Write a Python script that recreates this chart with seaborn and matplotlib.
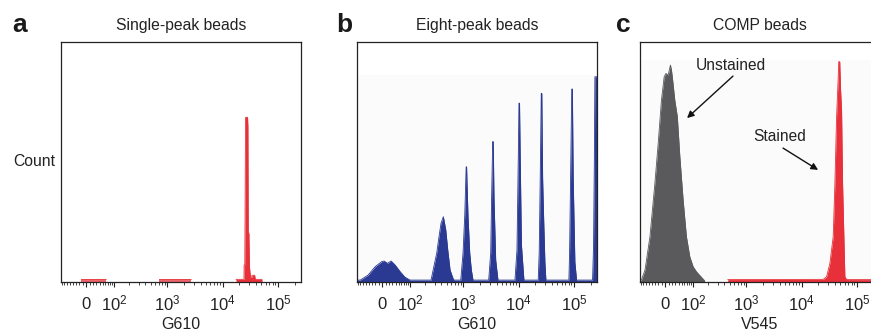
import numpy as np
import matplotlib
matplotlib.use('Agg')
import matplotlib.pyplot as plt
import matplotlib.transforms as mtransforms
import seaborn as sns

# Panel a: single-peak beads (G610), red histogram outline
single_x = [17460, 24370, 24500, 25200, 25500, 26000, 28300, 28700, 29100, 29900,
            30600, 31900, 33800, 34100, 38000, 39000, 51830]
single_count = [11, 11, 71, 71, 272, 686, 686, 647, 204, 204,
                64, 20, 20, 28, 28, 11, 11]
single_low_x = [-14, 63]
single_low_count = [11, 11]
single_mid_x = [700, 2730]
single_mid_count = [11, 11]

# Panel b: eight-peak beads (G610), blue histogram outline
eight_x = [-85, -71, -42, -20, -1, 5.7, 15, 26, 38.5, 56, 75, 98,
           256, 327, 360, 392, 433, 479, 521, 574, 659, 687,
           898, 987, 1061, 1106, 1125, 1145, 1170, 1216, 1306, 1397, 1497,
           2877, 3128, 3260, 3400, 3480, 3587, 3851, 4236,
           8593, 9343, 9861, 10150, 10400, 10713, 11262, 12497,
           22660, 23610, 24620, 25700, 26300, 27210, 28120, 29920, 31200,
           81300, 83680, 87250, 91500, 94000, 97240, 104350, 111960,
           217840, 226950, 234570, 240000, 262144]
eight_count = [8, 8, 29, 64, 85, 87.5, 78, 87.5, 71, 43, 20, 8,
               8, 121, 189, 245, 272, 217, 133, 50, 11, 8,
               8, 121, 279, 425, 480, 480, 400, 272, 120, 50, 8,
               8, 121, 371, 585, 585, 355, 92, 8,
               8, 133, 508, 745, 745, 508, 154, 8,
               8, 125, 433, 786, 786, 433, 300, 83, 8,
               8, 125, 433, 804, 804, 433, 83, 8,
               8, 150, 501, 855, 855]

# Panel c: COMP beads (V545)
unstained_x = [-85, -79, -64, -46, -30, -20, -10.5, -2.8, 2, 8.5, 15.1, 18.1, 21,
               28, 36, 44.3, 55.8, 68.5, 82.8, 98.5, 116, 146.5, 170]
unstained_count = [5, 8, 50, 189, 411, 578, 758, 855, 869, 862, 904, 883, 849,
                   758, 689, 522, 342, 189, 105, 64, 43, 20, 5]
stained_x = [459, 24620, 28340, 32520, 37300, 40050, 42980, 45930, 47000, 49000,
             50760, 52900, 55150, 58240, 60690, 65180, 262144]
stained_count = [10, 11, 22, 78, 189, 411, 689, 850, 918, 918,
                 800, 717, 411, 189, 22, 10, 10]

major_ticks = [0, 1e2, 1e3, 1e4, 1e5]
major_labels = ['0', r'$\mathregular{10^2}$', r'$\mathregular{10^3}$',
                r'$\mathregular{10^4}$', r'$\mathregular{10^5}$']
minor_ticks = ([-80, -70, -60, -50, -40, -30, -20, -10, 10, 20, 30, 40, 50, 60, 70, 80, 90]
               + [200, 300, 400, 500, 600, 700, 800, 900]
               + [2000, 3000, 4000, 5000, 6000, 7000, 8000, 9000]
               + [20000, 30000, 40000, 50000, 60000, 70000, 80000, 90000, 200000])

sns.set_theme(style='ticks')
plt.rcParams['font.family'] = ['Liberation Sans', 'DejaVu Sans']
plt.rcParams['mathtext.fontset'] = 'custom'
plt.rcParams['mathtext.rm'] = 'Liberation Sans'
plt.rcParams['mathtext.it'] = 'Liberation Sans:italic'
plt.rcParams['mathtext.bf'] = 'Liberation Sans:bold'

RED = '#e8303a'
BLUE = '#2a3a93'
GRAY = '#5a5a5c'
TXT = '#222222'

fig = plt.figure(figsize=(8.71, 3.32), dpi=100)
W, H = 871, 332


def make_axes(left_px):
    return fig.add_axes([left_px / W, 50 / H, 240 / W, 240 / H])


def hist_fill(ax, x, y, color, alpha=1.0):
    sns.lineplot(x=x, y=y, estimator=None, sort=False, ax=ax, color=color,
                 lw=0.6, alpha=alpha)
    ax.fill_between(x, y, 0, color=color, lw=0, alpha=alpha)


def style_axes(ax, xlabel):
    ax.set_xscale('asinh', linear_width=68)
    ax.set_xlim(-85, 262144)
    ax.set_ylim(0, 1000)
    ax.set_xticks(major_ticks, major_labels)
    ax.set_xticks(minor_ticks, minor=True)
    ax.set_yticks([])
    ax.set_ylabel('')
    ax.tick_params(axis='x', which='major', direction='out', length=3.6, width=0.8,
                   pad=5, labelsize=12, colors=TXT)
    ax.tick_params(axis='x', which='minor', direction='out', length=1.8, width=0.6)
    for s in ax.spines.values():
        s.set_visible(True)
        s.set_linewidth(0.9)
        s.set_color(TXT)
    ax.set_xlabel(xlabel, fontsize=11.5, color=TXT, va='top')
    ax.xaxis.set_label_coords(0.5, -35 / 240)
    # drop the plain "0" label so its baseline lines up with the 10^n labels
    shift = mtransforms.ScaledTranslation(0, -3 / 100, fig.dpi_scale_trans)
    zero_lbl = ax.get_xticklabels()[0]
    zero_lbl.set_transform(zero_lbl.get_transform() + shift)


# a
ax_a = make_axes(61)
hist_fill(ax_a, single_low_x, single_low_count, RED, alpha=0.75)
hist_fill(ax_a, single_mid_x, single_mid_count, RED, alpha=0.75)
hist_fill(ax_a, single_x, single_count, RED)
style_axes(ax_a, 'G610')
ax_a.set_title('Single-peak beads', fontsize=11.3, pad=8.5, color=TXT)
ax_a.set_ylabel('Count', rotation=0, ha='right', va='center', fontsize=11.3, color=TXT)
ax_a.yaxis.set_label_coords(-6 / 240, 0.5)

# b
ax_b = make_axes(357)
ax_b.axhspan(0, 862, color='#fbfbfc', lw=0, zorder=0)
hist_fill(ax_b, eight_x, eight_count, BLUE)
style_axes(ax_b, 'G610')
ax_b.set_title('Eight-peak beads', fontsize=11.3, pad=8.5, color=TXT)

# c
ax_c = make_axes(640)
ax_c.axhspan(0, 925, color='#fbfbfc', lw=0, zorder=0)
hist_fill(ax_c, unstained_x, unstained_count, GRAY)
hist_fill(ax_c, stained_x, stained_count, RED)
style_axes(ax_c, 'V545')
ax_c.set_title('COMP beads', fontsize=11.3, pad=8.5, color=TXT)
ax_c.text(0.379, 0.904, 'Unstained', transform=ax_c.transAxes, ha='center',
          va='center', fontsize=11.2, color=TXT)
ax_c.annotate('', xy=(0.196, 0.683), xytext=(0.3875, 0.858), xycoords='axes fraction',
              arrowprops=dict(arrowstyle='-|>', color='#111111', lw=1.0, mutation_scale=10,
                              shrinkA=0, shrinkB=0))
ax_c.text(0.583, 0.608, 'Stained', transform=ax_c.transAxes, ha='center',
          va='center', fontsize=11.2, color=TXT)
ax_c.annotate('', xy=(0.742, 0.467), xytext=(0.596, 0.558), xycoords='axes fraction',
              arrowprops=dict(arrowstyle='-|>', color='#111111', lw=1.0, mutation_scale=10,
                              shrinkA=0, shrinkB=0))

# panel letters
for letter, xpx in [('a', 12), ('b', 336), ('c', 616)]:
    fig.text(xpx / W, (H - 32) / H, letter, fontsize=19, fontweight='bold',
             color='#1a1a1a', va='baseline', ha='left')

fig.savefig('out.png', dpi=100)
